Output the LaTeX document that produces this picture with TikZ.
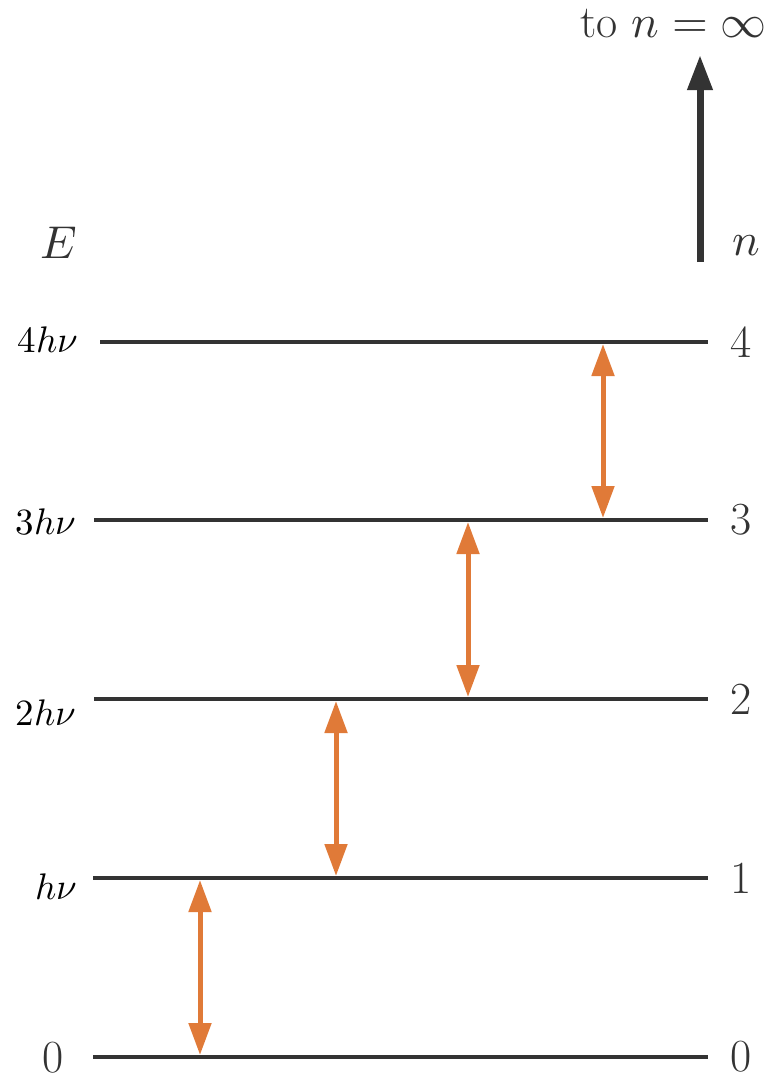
\documentclass[tikz,border=0pt]{standalone}
\usepackage{unicode-math}
\setmathfont{Latin Modern Math}
\usetikzlibrary{arrows.meta}
\definecolor{lev}{HTML}{333333}
\definecolor{trans}{HTML}{E07A38}
\begin{document}
\begin{tikzpicture}[x=1pt,y=-1pt,
  level/.style={draw=lev,line width=4.5pt},
  trarrow/.style={draw=trans,line width=5pt,{Triangle[length=32pt,width=22pt]}-{Triangle[length=32pt,width=22pt]}},
  big/.style={font=\fontsize{46}{50}\selectfont,inner sep=0pt,text=lev},
  elab/.style={font=\fontsize{37}{42}\selectfont,inner sep=0pt,anchor=east}]
\useasboundingbox (0,0) rectangle (765,1080);
% energy levels
\coordinate (l4w) at (100,342); \coordinate (l4e) at (708,342);
\coordinate (l3w) at (94,520);  \coordinate (l3e) at (708,520);
\coordinate (l2w) at (94,699);  \coordinate (l2e) at (708,699);
\coordinate (l1w) at (93,878);  \coordinate (l1e) at (708,878);
\coordinate (l0w) at (93,1057); \coordinate (l0e) at (708,1057);
\draw[level] (l4w) -- (l4e);
\draw[level] (l3w) -- (l3e);
\draw[level] (l2w) -- (l2e);
\draw[level] (l1w) -- (l1e);
\draw[level] (l0w) -- (l0e);
% transitions
\coordinate (a1t) at (200,880); \coordinate (a1b) at (200,1055);
\coordinate (a2t) at (336,701); \coordinate (a2b) at (336,876);
\coordinate (a3t) at (468,522); \coordinate (a3b) at (468,697);
\coordinate (a4t) at (603,344); \coordinate (a4b) at (603,518);
\draw[trarrow] (a1t) -- (a1b);
\draw[trarrow] (a2t) -- (a2b);
\draw[trarrow] (a3t) -- (a3b);
\draw[trarrow] (a4t) -- (a4b);
% n axis arrow
\coordinate (ns) at (700,262); \coordinate (ne) at (700,55);
\draw[lev,line width=7pt,-{Triangle[length=35pt,width=24pt]}] (ns) -- (ne);
% labels
\node[big,anchor=east] (inf) at (767,24) {to $n=\infty$};
\node[big] (nlab) at (746,246) {$n$};
\node[big] (Elab) at (59,243) {$E$};
\node[big] (r4) at (741,342) {4};
\node[big] (r3) at (741,520) {3};
\node[big] (r2) at (741,699) {2};
\node[big] (r1) at (741,878) {1};
\node[big] (r0) at (741,1057) {0};
\node[elab] (e4) at (78,340) {$4h\nu$};
\node[elab] (e3) at (76,522) {$3h\nu$};
\node[elab] (e2) at (76,713) {$2h\nu$};
\node[elab] (e1) at (77,887) {$h\nu$};
\node[big] (e0) at (53,1058) {0};
\end{tikzpicture}
\end{document}
